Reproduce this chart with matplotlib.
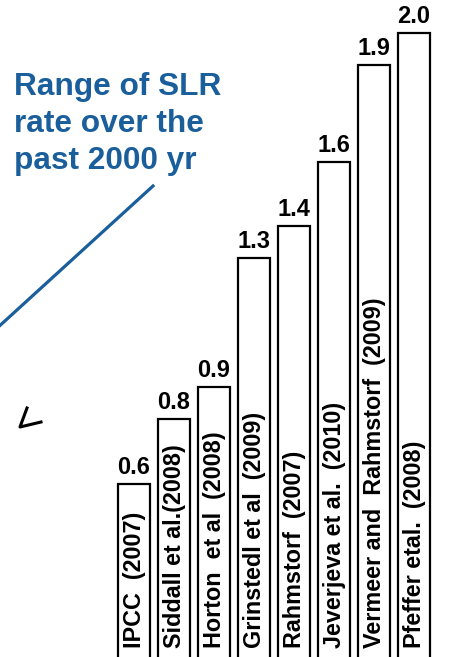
import matplotlib
matplotlib.use("Agg")
import matplotlib.pyplot as plt

# SLR rate estimates (mm/yr) from different studies
studies = ["IPCC  (2007)", "Siddall et al.(2008)", "Horton  et al  (2008)",
           "Grinstedl et al  (2009)", "Rahmstorf  (2007)",
           "Jeverjeva et al.  (2010)", "Vermeer and  Rahmstorf  (2009)",
           "Pfeffer etal.  (2008)"]
rates = [0.6, 0.8, 0.9, 1.3, 1.4, 1.6, 1.9, 2.0]
rate_labels = ["0.6", "0.8", "0.9", "1.3", "1.4", "1.6", "1.9", "2.0"]

plt.rcParams["font.family"] = ["Liberation Sans", "DejaVu Sans"]

W, H = 477, 657
fig = plt.figure(figsize=(W / 100, H / 100), dpi=100)
ax = fig.add_axes([0, 0, 1, 1])
ax.set_axis_off()

x = list(range(len(studies)))
ax.bar(x, rates, width=0.82, color="white", edgecolor="black", linewidth=1.6)
ax.set_xlim(-3.35, 8.575)
ax.set_ylim(0.062, 2.102)

for xi, r, lab, name in zip(x, rates, rate_labels, studies):
    ax.text(xi, r + 0.015, lab, ha="center", va="bottom",
            fontsize=17, fontweight="bold")
    ax.text(xi, 0.09, name, rotation=90, ha="center", va="bottom",
            fontsize=16.8, fontweight="bold")

# blue annotation
blue = "#1a5f9b"
fig.text(14 / W, 1 - 72 / H, "Range of SLR\nrate over the\npast 2000 yr",
         ha="left", va="top", fontsize=22.8, fontweight="bold", color=blue,
         linespacing=1.3)
fig.add_artist(plt.Line2D([153 / W, -5 / W], [1 - 186 / H, 1 - 330 / H],
                          color=blue, lw=2.3, transform=fig.transFigure))

# small leftover arrow tip
fig.add_artist(plt.Line2D([27 / W, 20 / W, 41 / W],
                          [1 - 408 / H, 1 - 427 / H, 1 - 422 / H],
                          color="black", lw=2.2, transform=fig.transFigure))

fig.savefig("out.png", dpi=100)
